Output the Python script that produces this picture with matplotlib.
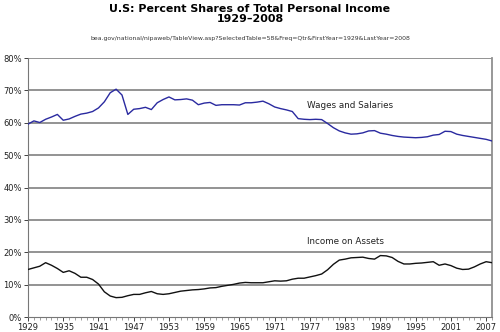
import matplotlib
matplotlib.use('Agg')
import matplotlib.pyplot as plt
import numpy as np
from matplotlib.ticker import FixedLocator, FuncFormatter

# annual shares of personal income, 1929-2008 (percent)
years = np.arange(1929, 2009)
wages = [59.6, 60.6, 60.1, 61.1, 61.8, 62.6, 60.8, 61.2, 62.0, 62.7,
         63.0, 63.5, 64.6, 66.5, 69.3, 70.4, 68.6, 62.6, 64.2, 64.4,
         64.8, 64.1, 66.2, 67.2, 68.0, 67.1, 67.2, 67.4, 67.0, 65.6,
         66.1, 66.3, 65.4, 65.6, 65.6, 65.6, 65.5, 66.2, 66.2, 66.4,
         66.7, 65.9, 64.9, 64.4, 64.0, 63.5, 61.3, 61.1, 61.0, 61.1,
         61.0, 59.8, 58.5, 57.5, 56.9, 56.5, 56.6, 56.9, 57.5, 57.6,
         56.8, 56.5, 56.1, 55.8, 55.6, 55.5, 55.4, 55.5, 55.7, 56.2,
         56.4, 57.4, 57.3, 56.5, 56.1, 55.8, 55.5, 55.2, 54.9, 54.4]
assets = [14.7, 15.2, 15.7, 16.8, 16.0, 15.0, 13.8, 14.3, 13.5, 12.3,
          12.3, 11.6, 10.2, 7.8, 6.5, 6.0, 6.1, 6.6, 7.0, 7.0,
          7.5, 7.9, 7.2, 7.0, 7.2, 7.6, 8.0, 8.2, 8.4, 8.5,
          8.7, 9.0, 9.1, 9.5, 9.8, 10.1, 10.5, 10.7, 10.6, 10.6,
          10.6, 10.9, 11.2, 11.1, 11.2, 11.7, 12.0, 12.0, 12.4, 12.8,
          13.3, 14.6, 16.3, 17.6, 17.9, 18.3, 18.4, 18.5, 18.1, 17.9,
          19.0, 18.9, 18.4, 17.2, 16.4, 16.4, 16.6, 16.7, 16.9, 17.1,
          16.0, 16.4, 15.9, 15.1, 14.7, 14.8, 15.5, 16.4, 17.1, 16.8]
label_years = np.arange(1929, 2009, 6)

fig = plt.figure(figsize=(5, 3.32), dpi=100)
ax = fig.add_axes([0.056, 0.045, 0.928, 0.78])

for v in range(10, 90, 10):
        ax.axhline(v, color='#8a8a8a', lw=1.3, zorder=1)
ax.plot(years, wages, color='#2a2aa0', lw=1.0, zorder=3)
ax.plot(years, assets, color='#111111', lw=1.0, zorder=3)

ax.set_xlim(1929, 2008)
ax.set_ylim(0, 80)
ax.set_yticks(range(0, 90, 10))
ax.yaxis.set_major_formatter(FuncFormatter(lambda v, p: '%d%%' % v))
ax.xaxis.set_major_locator(FixedLocator(label_years))
ax.xaxis.set_minor_locator(FixedLocator(years))
ax.tick_params(axis='both', labelsize=6.0, colors='#222222', length=3, width=0.6, pad=1.5)
ax.tick_params(axis='x', which='minor', length=2, width=0.5, colors='#777777')
ax.spines['left'].set_color('#777777')
ax.spines['bottom'].set_color('#777777')
ax.spines['top'].set_visible(False)
ax.spines['right'].set_color('#909090')
ax.spines['right'].set_linewidth(1.3)

ax.text(1976.5, 65.5, 'Wages and Salaries', fontsize=6.3, va='center', color='#222222')
ax.text(1976.5, 23.2, 'Income on Assets', fontsize=6.3, va='center', color='#222222')

fig.text(0.5, 0.988, 'U.S: Percent Shares of Total Personal Income\n1929\u20132008',
         ha='center', va='top', fontsize=7.9, fontweight='bold', linespacing=1.05)
fig.text(0.5, 0.885, 'bea.gov/national/nipaweb/TableView.asp?SelectedTable=58&Freq=Qtr&FirstYear=1929&LastYear=2008',
         ha='center', va='center', fontsize=4.4, color='#333333')

fig.savefig('out.png', dpi=100)
